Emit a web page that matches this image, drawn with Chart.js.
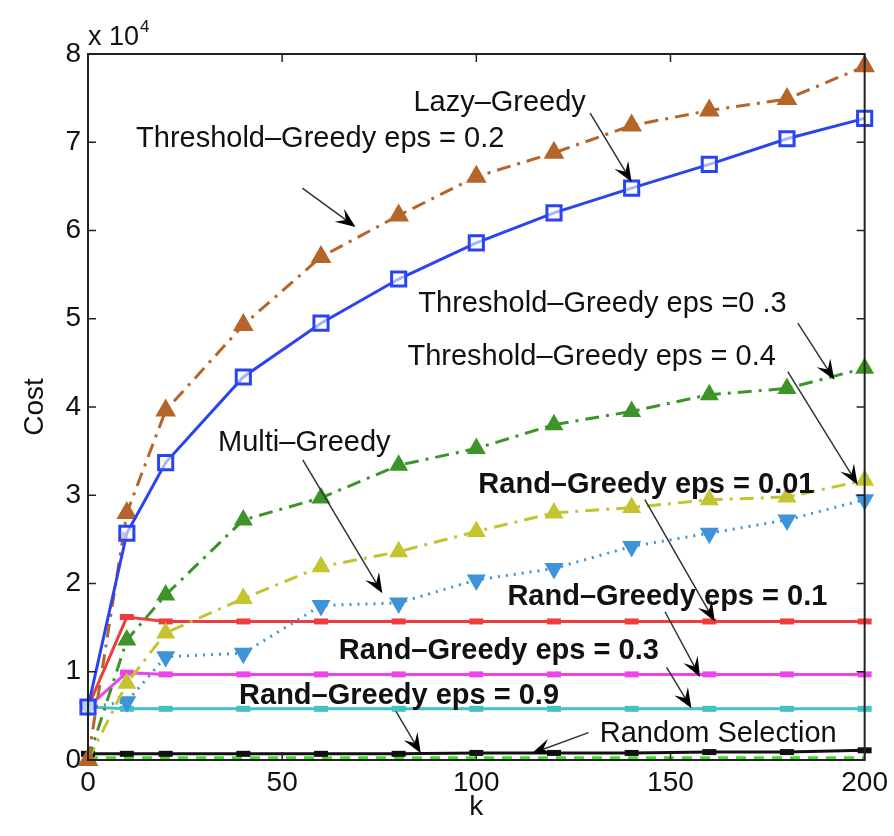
<!DOCTYPE html>
<html>
<head>
<meta charset="utf-8">
<script src="https://cdn.jsdelivr.net/npm/chart.js@4"></script>
<style>body{margin:0;background:#fff}</style>
</head>
<body>
<canvas id="costChart" width="894" height="836"></canvas>
<script>
// Valores de k (eje x)
const kValues = [0, 10, 20, 40, 60, 80, 100, 120, 140, 160, 180, 200];

// Costo de cada método, en unidades de 10^4
const lazyGreedy   = [0.6, 2.57, 3.37, 4.34, 4.95, 5.45, 5.86, 6.2, 6.48, 6.75, 7.04, 7.27];
const threshold02  = [0, 2.8, 3.96, 4.93, 5.7, 6.17, 6.61, 6.88, 7.19, 7.36, 7.49, 7.86];
const threshold03  = [0, 1.36, 1.87, 2.72, 2.97, 3.34, 3.53, 3.8, 3.95, 4.14, 4.21, 4.44];
const threshold04  = [0, 0.87, 1.44, 1.83, 2.19, 2.36, 2.59, 2.8, 2.86, 2.95, 2.98, 3.17];
const multiGreedy  = [0.6, 0.66, 1.17, 1.21, 1.75, 1.78, 2.04, 2.17, 2.42, 2.57, 2.72, 2.95];
const rand001      = [0.6, 1.62, 1.57, 1.57, 1.57, 1.57, 1.57, 1.57, 1.57, 1.57, 1.57, 1.57];
const rand01       = [0.6, 0.99, 0.97, 0.97, 0.97, 0.97, 0.97, 0.97, 0.97, 0.97, 0.97, 0.97];
const rand03       = [0.6, 0.58, 0.58, 0.58, 0.58, 0.58, 0.58, 0.58, 0.58, 0.58, 0.58, 0.58];
const rand09       = [0.07, 0.07, 0.07, 0.07, 0.07, 0.07, 0.08, 0.08, 0.08, 0.09, 0.09, 0.11];
const randomSel    = [0.02, 0.02, 0.02, 0.02, 0.02, 0.02, 0.02, 0.02, 0.02, 0.02, 0.02, 0.02];

// Etiquetas de los ejes
const xTicks = [0, 50, 100, 150, 200];
const yTicks = [0, 1, 2, 3, 4, 5, 6, 7, 8];

// Textos con flecha (en coordenadas de datos)
const notas = [
  { texto: 'Lazy–Greedy', x: 106, y: 7.44, desde: [129.3, 7.33], hasta: [140, 6.55] },
  { texto: 'Threshold–Greedy eps = 0.2', x: 59.8, y: 7.04, desde: [55.2, 6.48], hasta: [68.9, 6.04] },
  { texto: 'Threshold–Greedy eps =0 .3', x: 132.5, y: 5.17, desde: [182.8, 4.95], hasta: [192.2, 4.31] },
  { texto: 'Threshold–Greedy eps = 0.4', x: 129.7, y: 4.57, desde: [180.2, 4.4], hasta: [198.2, 3.12] },
  { texto: 'Multi–Greedy', x: 55.7, y: 3.59, desde: [55.3, 3.4], hasta: [75.8, 1.89] },
  { texto: 'Rand–Greedy eps = 0.01', x: 143.8, y: 3.12, desde: [143.4, 2.95], hasta: [161.4, 1.57], bold: true },
  { texto: 'Rand–Greedy eps = 0.1', x: 149.2, y: 1.85, desde: [148.6, 1.68], hasta: [157.6, 0.94], bold: true },
  { texto: 'Rand–Greedy eps = 0.3', x: 105.8, y: 1.23, desde: [149, 1.05], hasta: [155.4, 0.585], bold: true },
  { texto: 'Rand–Greedy eps = 0.9', x: 80.1, y: 0.72, desde: [79.3, 0.55], hasta: [85.7, 0.076], bold: true },
  { texto: 'Random Selection', x: 162.3, y: 0.3, desde: [128.9, 0.31], hasta: [114.3, 0.076] }
];

const fuente = '"Liberation Sans", Arial, sans-serif';

function serie(datos, color, extra) {
  return Object.assign({
    data: kValues.map((k, i) => ({ x: k, y: datos[i] })),
    borderColor: color,
    backgroundColor: color,
    pointBorderColor: color,
    pointBackgroundColor: color,
    borderWidth: 3,
    pointRadius: 9,
    pointBorderWidth: 2,
    clip: false,
    tension: 0
  }, extra);
}

function flecha(ctx, x1, y1, x2, y2) {
  const a = Math.atan2(y2 - y1, x2 - x1);
  const c = Math.cos(a), s = Math.sin(a);
  const largo = 20, ancho = 8;
  ctx.strokeStyle = '#333';
  ctx.lineWidth = 1.5;
  ctx.beginPath();
  ctx.moveTo(x1, y1);
  ctx.lineTo(x2 - c * largo * 0.6, y2 - s * largo * 0.6);
  ctx.stroke();
  ctx.fillStyle = '#000';
  ctx.beginPath();
  ctx.moveTo(x2, y2);
  ctx.lineTo(x2 - largo * c + ancho * s, y2 - largo * s - ancho * c);
  ctx.lineTo(x2 - largo * 0.6 * c, y2 - largo * 0.6 * s);
  ctx.lineTo(x2 - largo * c - ancho * s, y2 - largo * s + ancho * c);
  ctx.closePath();
  ctx.fill();
}

// Marco, marcas interiores, textos y flechas
const extras = {
  id: 'extras',
  afterDatasetsDraw(chart) {
    const { ctx, chartArea: a, scales: { x, y } } = chart;
    ctx.save();
    ctx.strokeStyle = '#222';
    ctx.lineWidth = 2;
    ctx.strokeRect(a.left, a.top, a.right - a.left, a.bottom - a.top);
    ctx.lineWidth = 1.5;
    ctx.beginPath();
    xTicks.forEach(v => {
      const px = x.getPixelForValue(v);
      ctx.moveTo(px, a.bottom); ctx.lineTo(px, a.bottom - 8);
      ctx.moveTo(px, a.top); ctx.lineTo(px, a.top + 8);
    });
    yTicks.forEach(v => {
      const py = y.getPixelForValue(v);
      ctx.moveTo(a.left, py); ctx.lineTo(a.left + 8, py);
      ctx.moveTo(a.right, py); ctx.lineTo(a.right - 8, py);
    });
    ctx.stroke();

    notas.forEach(n => {
      flecha(ctx, x.getPixelForValue(n.desde[0]), y.getPixelForValue(n.desde[1]),
                  x.getPixelForValue(n.hasta[0]), y.getPixelForValue(n.hasta[1]));
    });
    ctx.textAlign = 'center';
    ctx.textBaseline = 'middle';
    ctx.fillStyle = '#111';
    notas.forEach(n => {
      ctx.font = (n.bold ? 'bold ' : '') + '29px ' + fuente;
      ctx.fillText(n.texto, x.getPixelForValue(n.x), y.getPixelForValue(n.y));
    });

    // x 10^4
    ctx.textAlign = 'left';
    ctx.textBaseline = 'alphabetic';
    ctx.font = '27px ' + fuente;
    ctx.fillText('x 10', a.left, a.top - 9);
    const w = ctx.measureText('x 10').width;
    ctx.font = '17px ' + fuente;
    ctx.fillText('4', a.left + w + 1, a.top - 22);
    ctx.restore();
  }
};

const ctx = document.getElementById('costChart').getContext('2d');
new Chart(ctx, {
  type: 'line',
  data: {
    datasets: [
      serie(lazyGreedy, '#2a45f0', { pointStyle: 'rect', pointRadius: 10, pointBackgroundColor: 'rgba(255,255,255,0.6)', pointBorderWidth: 3 }),
      serie(threshold02, '#b5652a', { pointStyle: 'triangle', pointRadius: 10, borderDash: [14, 7, 3, 7] }),
      serie(threshold03, '#3d9428', { pointStyle: 'triangle', borderDash: [14, 7, 3, 7] }),
      serie(threshold04, '#c4c431', { pointStyle: 'triangle', borderDash: [14, 7, 3, 7] }),
      serie(multiGreedy, '#3f93d8', { pointStyle: 'triangle', pointRotation: 180, borderDash: [2, 6] }),
      serie(rand001, '#ee3d3d', { pointStyle: 'line', pointRadius: 7, pointBorderWidth: 6 }),
      serie(rand01, '#ee44ee', { pointStyle: 'line', pointRadius: 7, pointBorderWidth: 6 }),
      serie(rand03, '#43c2c0', { pointStyle: 'line', pointRadius: 7, pointBorderWidth: 6 }),
      serie(rand09, '#111111', { pointStyle: 'line', pointRadius: 7, pointBorderWidth: 6 }),
      serie(randomSel, '#44dd22', { pointStyle: 'line', pointRadius: 0, borderWidth: 4, borderDash: [10, 8] })
    ]
  },
  options: {
    responsive: false,
    animation: false,
    layout: { padding: { top: 54, right: 27, left: 0, bottom: 0 } },
    plugins: { legend: { display: false }, tooltip: { enabled: false } },
    scales: {
      x: {
        type: 'linear', min: 0, max: 200,
        afterFit: s => { s.height = 76; },
        afterBuildTicks: s => { s.ticks = xTicks.map(v => ({ value: v })); },
        grid: { display: false, drawTicks: false },
        border: { display: true, color: '#222', width: 2 },
        ticks: { color: '#111', padding: 6, font: { size: 28, family: fuente } },
        title: { display: true, text: 'k', color: '#111', padding: { top: 0, bottom: 12 }, font: { size: 28, family: fuente } }
      },
      y: {
        min: 0, max: 8,
        afterFit: s => { s.width = 88; },
        afterBuildTicks: s => { s.ticks = yTicks.map(v => ({ value: v })); },
        grid: { display: false, drawTicks: false },
        border: { display: true, color: '#222', width: 2 },
        ticks: { color: '#111', padding: 7, font: { size: 28, family: fuente } },
        title: { display: true, text: 'Cost', color: '#111', padding: { top: 18, bottom: 0 }, font: { size: 28, family: fuente } }
      }
    }
  },
  plugins: [extras]
});
</script>
</body>
</html>
